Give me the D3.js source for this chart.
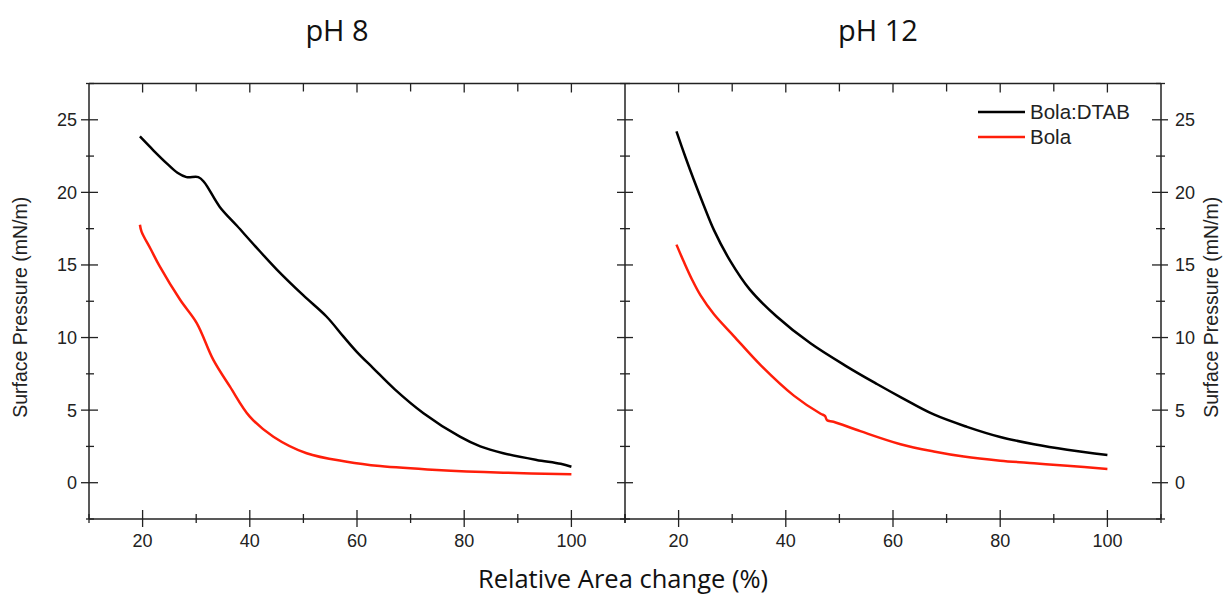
<!DOCTYPE html>
<html>
<head>
<meta charset="utf-8">
<script src="https://cdn.jsdelivr.net/npm/d3@7"></script>
<style>
  body { margin: 0; background: #fff; }
  svg text { font-family: "Liberation Sans", Arial, sans-serif; fill: #222; }
</style>
</head>
<body>
<svg id="chart" width="1224" height="597"></svg>
<script>
// pH 8 readings (relative area %, surface pressure mN/m)
const ph8DtabX = [19.5, 22, 24.5, 26.5, 28.2, 30.4, 31.5, 34.4, 37.6, 41, 45, 50, 54.3, 57.4, 60, 63, 67, 72.4, 79.2, 83, 87.3, 93.5, 98, 100];
const ph8DtabY = [23.85, 22.9, 22.0, 21.35, 21.05, 21.05, 20.7, 19.0, 17.7, 16.3, 14.7, 12.9, 11.45, 10.1, 9.0, 7.9, 6.45, 4.79, 3.17, 2.5, 2.03, 1.57, 1.3, 1.1];
const ph8BolaX = [19.5, 19.8, 21.5, 23.2, 27, 30.1, 33.2, 36.3, 40, 44.4, 50.6, 58.1, 64.3, 74.9, 87.3, 100];
const ph8BolaY = [17.77, 17.3, 16.1, 14.9, 12.6, 11.0, 8.46, 6.62, 4.55, 3.17, 2.03, 1.45, 1.15, 0.88, 0.69, 0.58];

// pH 12 readings
const ph12DtabX = [19.6, 21.3, 22.8, 24.7, 26.6, 29.6, 33.3, 38.3, 44.6, 51.4, 57, 61.4, 67.6, 73.8, 80, 86.3, 92.5, 100];
const ph12DtabY = [24.2, 22.4, 20.9, 19.1, 17.4, 15.3, 13.3, 11.45, 9.6, 8.0, 6.8, 5.9, 4.7, 3.85, 3.15, 2.65, 2.27, 1.91];
const ph12BolaX = [19.6, 21, 22.5, 24.1, 26.6, 30.3, 35.3, 41.5, 46.5, 47.3, 47.7, 48.9, 53.9, 61.4, 67.6, 73.2, 80, 86.3, 92.5, 100];
const ph12BolaY = [16.4, 15.2, 14.0, 12.9, 11.6, 10.1, 8.1, 6.0, 4.75, 4.6, 4.3, 4.2, 3.55, 2.65, 2.15, 1.8, 1.52, 1.34, 1.17, 0.94];

const panelTitles = ["pH 8", "pH 12"];
const seriesNames = ["Bola:DTAB", "Bola"];
const seriesColors = ["#000000", "#ff1e0a"];
const xMajorTicks = [20, 40, 60, 80, 100];
const xMinorTicks = [10, 30, 50, 70, 90, 110];
const yMajorTicks = [0, 5, 10, 15, 20, 25];
const yMinorTicks = [-2.5, 2.5, 7.5, 12.5, 17.5, 22.5, 27.5];

const svg = d3.select("#chart");
const plotTop = 83.5, plotBottom = 519;
const panels = [
  {left: 89, right: 625, title: panelTitles[0], titleX: 337,
   series: [{x: ph8DtabX, y: ph8DtabY}, {x: ph8BolaX, y: ph8BolaY}]},
  {left: 625, right: 1161, title: panelTitles[1], titleX: 878,
   series: [{x: ph12DtabX, y: ph12DtabY}, {x: ph12BolaX, y: ph12BolaY}]}
];

const y = d3.scaleLinear().domain([-2.5, 27.5]).range([plotBottom, plotTop]);

panels.forEach(function (p, pi) {
  const x = d3.scaleLinear().domain([10, 110]).range([p.left, p.right]);
  const g = svg.append("g");

  // curves
  const line = d3.line()
    .x(d => x(d[0]))
    .y(d => y(d[1]))
    .curve(d3.curveCatmullRom.alpha(0.5));
  p.series.forEach(function (s, si) {
    const pts = s.x.map((v, i) => [v, s.y[i]]);
    g.append("path")
      .datum(pts)
      .attr("d", line)
      .attr("fill", "none")
      .attr("stroke", seriesColors[si])
      .attr("stroke-width", 2.5)
      .attr("stroke-linejoin", "round");
  });

  // bottom axis (ticks crossing the line)
  const bottomAxis = g.append("g").attr("transform", `translate(0,${plotBottom})`);
  bottomAxis.append("line").attr("x1", p.left).attr("x2", p.right)
    .attr("stroke", "#222").attr("stroke-width", 1.5);
  bottomAxis.selectAll(".maj").data(xMajorTicks).enter().append("line")
    .attr("x1", d => x(d)).attr("x2", d => x(d)).attr("y1", -9).attr("y2", 8)
    .attr("stroke", "#222").attr("stroke-width", 1.3);
  bottomAxis.selectAll(".min").data(xMinorTicks).enter().append("line")
    .attr("x1", d => x(d)).attr("x2", d => x(d)).attr("y1", -5).attr("y2", 4)
    .attr("stroke", "#222").attr("stroke-width", 1.3);
  bottomAxis.selectAll("text").data(xMajorTicks).enter().append("text")
    .attr("x", d => x(d)).attr("y", 28)
    .attr("text-anchor", "middle").style("font-size", "18px")
    .text(d => d);

  // top axis (ticks pointing inward)
  const topAxis = g.append("g").attr("transform", `translate(0,${plotTop})`);
  topAxis.append("line").attr("x1", p.left).attr("x2", p.right)
    .attr("stroke", "#222").attr("stroke-width", 1.5);
  topAxis.selectAll(".maj").data(xMajorTicks).enter().append("line")
    .attr("x1", d => x(d)).attr("x2", d => x(d)).attr("y1", 0).attr("y2", 9)
    .attr("stroke", "#222").attr("stroke-width", 1.3);
  topAxis.selectAll(".min").data(xMinorTicks.slice(1, -1)).enter().append("line")
    .attr("x1", d => x(d)).attr("x2", d => x(d)).attr("y1", 0).attr("y2", 8)
    .attr("stroke", "#222").attr("stroke-width", 1.3);

  // panel title
  svg.append("text")
    .attr("x", p.titleX).attr("y", 41)
    .attr("text-anchor", "middle")
    .style("font-family", "'Open Sans', 'Noto Sans', sans-serif")
    .style("font-size", "29px").style("fill", "#111")
    .text(p.title);
});

// vertical axes: left, middle, right
function drawYAxis(xPos, majOut, majIn, minOut, minIn) {
  const g = svg.append("g").attr("transform", `translate(${xPos},0)`);
  g.append("line").attr("y1", plotTop).attr("y2", plotBottom)
    .attr("stroke", "#222").attr("stroke-width", 1.5);
  g.selectAll(".maj").data(yMajorTicks).enter().append("line")
    .attr("x1", -majOut).attr("x2", majIn).attr("y1", d => y(d)).attr("y2", d => y(d))
    .attr("stroke", "#222").attr("stroke-width", 1.3);
  g.selectAll(".min").data(yMinorTicks).enter().append("line")
    .attr("x1", -minOut).attr("x2", minIn).attr("y1", d => y(d)).attr("y2", d => y(d))
    .attr("stroke", "#222").attr("stroke-width", 1.3);
  return g;
}

const leftAxis = drawYAxis(89, 8, 9, 3, 5);
leftAxis.selectAll("text").data(yMajorTicks).enter().append("text")
  .attr("x", -12).attr("y", d => y(d)).attr("dy", "0.36em")
  .attr("text-anchor", "end").style("font-size", "18px")
  .text(d => d);

drawYAxis(625, 8, 8, 5, 5);

const rightAxis = drawYAxis(1161, 9, 7, 5, 4);
rightAxis.selectAll("text").data(yMajorTicks).enter().append("text")
  .attr("x", 14).attr("y", d => y(d)).attr("dy", "0.36em")
  .attr("text-anchor", "start").style("font-size", "18px")
  .text(d => d);

// axis titles
svg.append("text")
  .attr("transform", `translate(27,${(plotTop + plotBottom) / 2 + 6}) rotate(-90)`)
  .attr("text-anchor", "middle").style("font-size", "19.5px")
  .text("Surface Pressure (mN/m)");
svg.append("text")
  .attr("transform", `translate(1218,${(plotTop + plotBottom) / 2 + 6}) rotate(-90)`)
  .attr("text-anchor", "middle").style("font-size", "19.5px")
  .text("Surface Pressure (mN/m)");
svg.append("text")
  .attr("x", 623).attr("y", 588)
  .attr("text-anchor", "middle")
  .style("font-family", "'Open Sans', 'Noto Sans', sans-serif")
  .style("font-size", "25.5px").style("fill", "#111")
  .text("Relative Area change (%)");

// legend
const legend = svg.append("g").attr("transform", "translate(978,112)");
seriesNames.forEach(function (name, i) {
  const row = legend.append("g").attr("transform", `translate(0,${i * 25})`);
  row.append("line").attr("x1", 0).attr("x2", 47)
    .attr("stroke", seriesColors[i]).attr("stroke-width", 2.5);
  row.append("text").attr("x", 52).attr("dy", "0.36em")
    .style("font-size", "20.5px").text(name);
});
</script>
</body>
</html>
